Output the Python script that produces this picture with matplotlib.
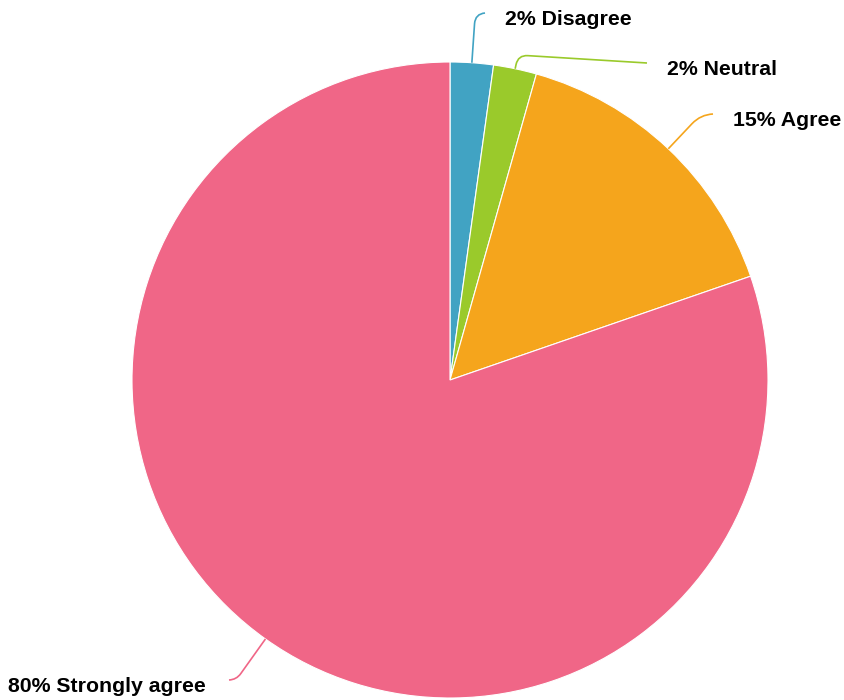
import numpy as np
import matplotlib.pyplot as plt
from matplotlib.path import Path
from matplotlib.patches import PathPatch

# survey answers (response counts)
labels = ["Disagree", "Neutral", "Agree", "Strongly agree"]
counts = [3, 3, 21, 110]
colors = ["#41a3c3", "#9aca2b", "#f5a51c", "#f06687"]

W, H = 845, 700
fig = plt.figure(figsize=(W / 100, H / 100), dpi=100)
ax = fig.add_axes([0, 0, 1, 1])

cx, cy, R = 450, H - 380, 318
wedges, _ = ax.pie(counts, colors=colors, startangle=90, counterclock=False,
                   center=(cx, cy), radius=R,
                   wedgeprops=dict(edgecolor="white", linewidth=0.8))
ax.set_xlim(0, W)
ax.set_ylim(0, H)
ax.set_aspect("equal")
ax.axis("off")

pct = 100 * np.array(counts) / sum(counts)

# leader layout: radial stretch before the bend, end point of the leader (px from top)
stretch = [49, 14, 47, 50]
ends = [(485, 13), (647, 63), (713, 114), (229, 680)]
gaps = [20, 20, 20, 23]

for w, p, name, d, (ex, ey), g in zip(wedges, pct, labels, stretch, ends, gaps):
    ang = np.deg2rad((w.theta1 + w.theta2) / 2)
    u = np.array([np.cos(ang), np.sin(ang)])
    c0 = np.array([cx, cy])
    p0 = c0 + R * u
    corner = c0 + (R + d) * u
    end = np.array([ex, H - ey])
    v = end - corner
    dist = np.hypot(*v)
    r = min(18, dist, d * 0.7)
    a = corner - r * u
    b = corner + r * v / dist
    path = Path([p0, a, corner, b, end],
                [Path.MOVETO, Path.LINETO, Path.CURVE3, Path.CURVE3, Path.LINETO])
    ax.add_patch(PathPatch(path, fill=False, edgecolor=w.get_facecolor(), lw=1.2))

    side = 1 if ex > cx else -1
    ax.text(ex + side * g, H - ey - 12, f"{p:.0f}% {name}",
            ha="left" if side > 0 else "right", va="baseline",
            fontsize=15.3, fontweight="bold", family="Liberation Sans")

fig.savefig("out.png", dpi=100)
